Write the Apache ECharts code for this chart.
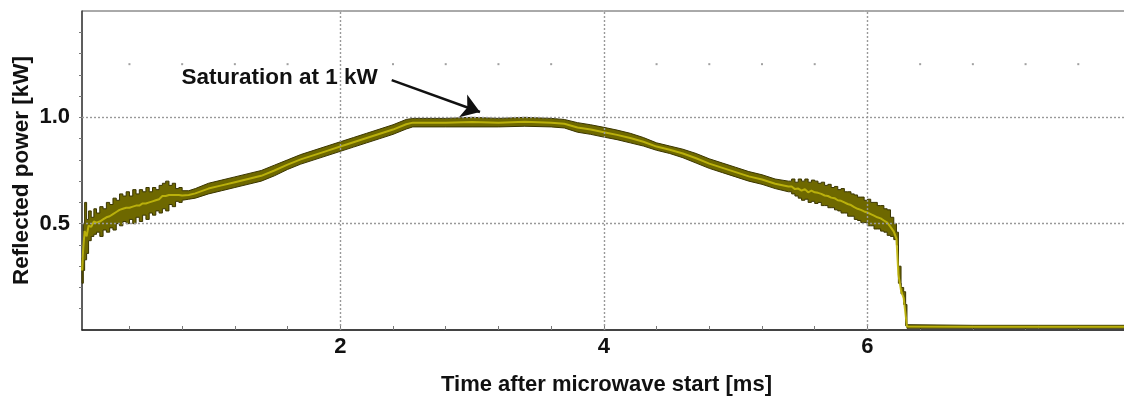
<!DOCTYPE html>
<html>
<head>
<meta charset="utf-8">
<title>Reflected power</title>
<script src="https://cdn.jsdelivr.net/npm/echarts@6.0.0/dist/echarts.min.js"></script>
<style>
  html, body { margin: 0; padding: 0; background: #fff; }
  #chart { width: 1124px; height: 400px; }
</style>
</head>
<body>
<div id="chart"></div>
<script>
// trace envelope (time in ms, power in kW)
const timeMs = [
  0.04, 0.05, 0.06, 0.075, 0.09, 0.11, 0.13, 0.15, 0.175, 0.20,
  0.225, 0.25, 0.275, 0.30, 0.325, 0.35, 0.375, 0.40, 0.425, 0.45,
  0.475, 0.50, 0.525, 0.55, 0.575, 0.60, 0.625, 0.65, 0.675, 0.70,
  0.725, 0.75, 0.775, 0.80, 0.85, 0.90, 1.00, 1.10, 1.20, 1.30,
  1.40, 1.50, 1.60, 1.70, 1.80, 1.90, 2.00, 2.10, 2.20, 2.30,
  2.40, 2.50, 2.55, 2.80, 3.00, 3.20, 3.40, 3.60, 3.70, 3.80,
  3.90, 4.00, 4.10, 4.20, 4.30, 4.40, 4.50, 4.60, 4.70, 4.80,
  4.90, 5.00, 5.10, 5.20, 5.30, 5.40, 5.425, 5.45, 5.475, 5.50,
  5.525, 5.55, 5.575, 5.60, 5.625, 5.65, 5.675, 5.70, 5.725, 5.75,
  5.775, 5.80, 5.825, 5.85, 5.875, 5.90, 5.925, 5.95, 5.975, 6.00,
  6.025, 6.05, 6.075, 6.10, 6.125, 6.15, 6.175, 6.20, 6.22, 6.235,
  6.255, 6.275, 6.29, 6.30, 6.80, 7.30, 7.96
];
const upperKW = [
  0.34, 0.50, 0.60, 0.52, 0.56, 0.53, 0.57, 0.55, 0.58, 0.57,
  0.60, 0.59, 0.62, 0.61, 0.64, 0.63, 0.65, 0.63, 0.66, 0.64,
  0.66, 0.65, 0.67, 0.65, 0.67, 0.66, 0.68, 0.69, 0.70, 0.68,
  0.69, 0.665, 0.67, 0.655, 0.655, 0.665, 0.69, 0.705, 0.72, 0.735,
  0.75, 0.775, 0.80, 0.825, 0.845, 0.865, 0.885, 0.905, 0.925, 0.945,
  0.965, 0.99, 0.995, 0.995, 1.0, 0.995, 1.0, 0.995, 0.99, 0.975,
  0.965, 0.953, 0.94, 0.925, 0.905, 0.88, 0.865, 0.85, 0.83, 0.805,
  0.785, 0.765, 0.745, 0.73, 0.71, 0.70, 0.71, 0.695, 0.71, 0.70,
  0.71, 0.695, 0.705, 0.70, 0.69, 0.695, 0.68, 0.685, 0.67, 0.675,
  0.66, 0.665, 0.65, 0.65, 0.64, 0.635, 0.625, 0.625, 0.61, 0.615,
  0.60, 0.60, 0.585, 0.585, 0.57, 0.565, 0.53, 0.50, 0.46, 0.30,
  0.20, 0.18, 0.12, 0.025, 0.022, 0.022, 0.022
];
const lowerKW = [
  0.22, 0.28, 0.33, 0.36, 0.42, 0.44, 0.45, 0.46, 0.44, 0.47,
  0.46, 0.48, 0.47, 0.50, 0.49, 0.51, 0.50, 0.52, 0.50, 0.53,
  0.51, 0.54, 0.52, 0.55, 0.54, 0.56, 0.55, 0.57, 0.56, 0.59,
  0.58, 0.605, 0.60, 0.61, 0.615, 0.62, 0.64, 0.655, 0.67, 0.685,
  0.70, 0.725, 0.755, 0.78, 0.80, 0.82, 0.84, 0.86, 0.88, 0.90,
  0.92, 0.945, 0.955, 0.955, 0.955, 0.955, 0.958, 0.955, 0.95, 0.93,
  0.92, 0.907, 0.895, 0.88, 0.865, 0.845, 0.83, 0.81, 0.785, 0.76,
  0.74, 0.72, 0.70, 0.685, 0.665, 0.65, 0.64, 0.63, 0.62, 0.61,
  0.615, 0.60, 0.605, 0.595, 0.60, 0.585, 0.585, 0.575, 0.575, 0.565,
  0.56, 0.55, 0.55, 0.535, 0.535, 0.52, 0.515, 0.505, 0.505, 0.49,
  0.49, 0.475, 0.475, 0.465, 0.46, 0.445, 0.44, 0.425, 0.40, 0.22,
  0.17, 0.12, 0.02, 0.008, 0.008, 0.008, 0.008
];

// axis ticks and labels
const xTickMs = [0.4, 0.8, 1.2, 1.6, 2.0, 2.4, 2.8, 3.2, 3.6, 4.0, 4.4, 4.8, 5.2, 5.6, 6.0, 6.4, 6.8, 7.2, 7.6];
const xLabelMs = [2, 4, 6];
const yTickKW = [0.1, 0.2, 0.3, 0.4, 0.5, 0.6, 0.7, 0.8, 0.9, 1.0, 1.1, 1.2, 1.3, 1.4];
const yLabelKW = [0.5, 1.0];
const xGridMs = [2, 4, 6];
const yGridKW = [0.5, 1.0];
const dotRowKW = 1.25;

// annotation
const noteText = 'Saturation at 1 kW';
const noteAt = [1.54, 1.185];
const arrowFrom = [2.39, 1.175];
const arrowTo = [3.06, 1.025];

const FONT = '"Liberation Sans", Arial, Helvetica, sans-serif';
const dotted = { color: '#999', width: 1.4, type: [2, 2] };

const traceRows = timeMs.map((t, i) => [t, upperKW[i], lowerKW[i]]);
const midData = timeMs.map((t, i) => [t, (upperKW[i] + lowerKW[i]) / 2]);
const dotData = xTickMs.filter(t => xGridMs.indexOf(t) < 0).map(t => [t, dotRowKW]);

// one edge of the band; closely spaced samples are drawn as steps (scope look)
function edgePoints(api, col) {
  const pts = [];
  traceRows.forEach((r, i) => {
    if (i > 0 && r[0] - traceRows[i - 1][0] <= 0.03) {
      pts.push(api.coord([r[0], traceRows[i - 1][col]]));
    }
    pts.push(api.coord([r[0], r[col]]));
  });
  return pts;
}

// whole trace band as one polygon: upper edge forward, lower edge back
function renderTrace(params, api) {
  if (params.dataIndex !== 0) return null;
  const top = edgePoints(api, 1);
  const bottom = edgePoints(api, 2).reverse();
  return {
    type: 'polygon',
    shape: { points: top.concat(bottom) },
    style: { fill: '#6e6800', stroke: '#3a3500', lineWidth: 1 }
  };
}

const chart = echarts.init(document.getElementById('chart'), null, { renderer: 'canvas' });

const option = {
  animation: false,
  backgroundColor: '#fff',
  grid: {
    left: 82, top: 11, right: -7, bottom: 70,
    show: true, borderColor: '#555', borderWidth: 1,
    outerBoundsMode: 'none'
  },
  xAxis: {
    type: 'value',
    min: 0.04,
    max: 8.0,
    name: 'Time after microwave start [ms]',
    nameLocation: 'middle',
    nameGap: 44,
    nameMoveOverlap: false,
    nameTextStyle: { fontFamily: FONT, fontWeight: 'bold', fontSize: 22, color: '#111' },
    axisLine: { lineStyle: { color: '#222', width: 1.5 } },
    axisTick: { show: true, inside: true, length: 4, customValues: xTickMs, lineStyle: { color: '#777' } },
    axisLabel: {
      customValues: xLabelMs, margin: 6,
      fontFamily: FONT, fontWeight: 'bold', fontSize: 22, color: '#111',
      formatter: v => String(v)
    },
    splitLine: { show: false }
  },
  yAxis: {
    type: 'value',
    min: 0,
    max: 1.5,
    name: 'Reflected power [kW]',
    nameLocation: 'middle',
    nameGap: 49,
    nameMoveOverlap: false,
    nameTextStyle: { fontFamily: FONT, fontWeight: 'bold', fontSize: 22.5, color: '#111' },
    axisLine: { show: true, lineStyle: { color: '#444', width: 1.5 } },
    axisTick: { show: true, inside: false, length: 3, customValues: yTickKW, lineStyle: { color: '#777' } },
    axisLabel: {
      customValues: yLabelKW, margin: 12,
      fontFamily: FONT, fontWeight: 'bold', fontSize: 22, color: '#111',
      formatter: v => v.toFixed(1)
    },
    splitLine: { show: false }
  },
  series: [
    // dotted grid + row of dots near the top
    {
      type: 'scatter',
      z: 1,
      silent: true,
      symbol: 'rect',
      symbolSize: 2,
      itemStyle: { color: '#888' },
      data: dotData,
      markLine: {
        silent: true,
        symbol: 'none',
        label: { show: false },
        lineStyle: dotted,
        data: xGridMs.map(t => ({ xAxis: t })).concat(yGridKW.map(p => ({ yAxis: p })))
      }
    },
    // the trace band
    {
      type: 'custom',
      z: 3,
      silent: true,
      renderItem: renderTrace,
      encode: { x: 0, y: [1, 2] },
      data: traceRows
    },
    // brighter streak inside the trace, carries the annotation
    {
      type: 'line',
      z: 4,
      showSymbol: false,
      silent: true,
      lineStyle: { color: '#c2b80c', width: 2, opacity: 0.9 },
      data: midData,
      markPoint: {
        silent: true,
        symbol: 'circle',
        symbolSize: 0,
        data: [{
          coord: noteAt,
          label: {
            show: true, position: 'inside', formatter: noteText,
            fontFamily: FONT, fontWeight: 'bold', fontSize: 22.5, color: '#111'
          }
        }]
      },
      markLine: {
        silent: true,
        symbol: ['none', 'arrow'],
        symbolSize: 18,
        label: { show: false },
        lineStyle: { color: '#111', width: 2.5, type: 'solid' },
        data: [[{ coord: arrowFrom }, { coord: arrowTo }]]
      }
    }
  ]
};

chart.setOption(option);
</script>
</body>
</html>
